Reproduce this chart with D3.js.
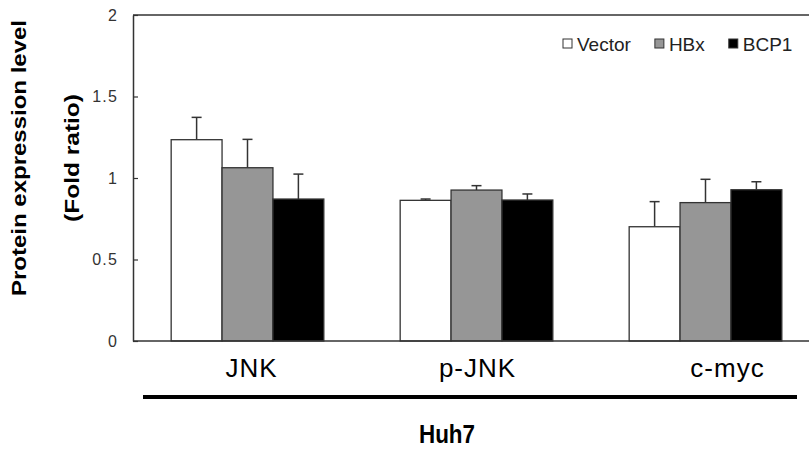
<!DOCTYPE html>
<html>
<head>
<meta charset="utf-8">
<script src="https://cdn.jsdelivr.net/npm/d3@7"></script>
<style>
  body { margin: 0; background: #fff; }
  svg { display: block; font-family: "Liberation Sans", Arial, sans-serif; }
</style>
</head>
<body>
<div id="chart"></div>
<script>
// data
const categories = ["JNK", "p-JNK", "c-myc"];
const series = ["Vector", "HBx", "BCP1"];
const vectorMean = [1.235, 0.863, 0.701];
const vectorErr = [0.137, 0.008, 0.154];
const hbxMean = [1.063, 0.926, 0.849];
const hbxErr = [0.174, 0.027, 0.143];
const bcp1Mean = [0.871, 0.865, 0.928];
const bcp1Err = [0.153, 0.037, 0.049];
const yTicks = [0, 0.5, 1, 1.5, 2];
const groupLabel = "Huh7";

const means = { "Vector": vectorMean, "HBx": hbxMean, "BCP1": bcp1Mean };
const errs = { "Vector": vectorErr, "HBx": hbxErr, "BCP1": bcp1Err };
const fills = { "Vector": "#ffffff", "HBx": "#969696", "BCP1": "#000000" };

const width = 809, height = 450;
const plot = { left: 133, right: 820, top: 15, bottom: 341 };

const svg = d3.select("#chart").append("svg")
  .attr("width", width)
  .attr("height", height);

const x0 = d3.scaleBand()
  .domain(categories)
  .range([plot.left, plot.right])
  .padding(0);

const x1 = d3.scaleBand()
  .domain(series)
  .range([0, x0.bandwidth()])
  .paddingInner(0)
  .paddingOuter(0.75);

const y = d3.scaleLinear()
  .domain([0, 2])
  .range([plot.bottom, plot.top]);

// rows: one per bar
const rows = [];
categories.forEach((c, i) => {
  series.forEach(s => {
    rows.push({ cat: c, s: s, v: means[s][i], e: errs[s][i] });
  });
});

// frame top line (right side is off-canvas)
svg.append("line")
  .attr("x1", plot.left).attr("x2", plot.right)
  .attr("y1", plot.top).attr("y2", plot.top)
  .attr("stroke", "#333").attr("stroke-width", 1.5);

// error bars, upper half only
const eb = svg.append("g").selectAll("g")
  .data(rows)
  .enter().append("g")
  .attr("transform", d => `translate(${x0(d.cat) + x1(d.s) + x1.bandwidth() / 2},0)`);

eb.append("line")
  .attr("x1", 0).attr("x2", 0)
  .attr("y1", d => y(d.v))
  .attr("y2", d => y(d.v + d.e))
  .attr("stroke", "#333").attr("stroke-width", 1.5);

eb.append("line")
  .attr("x1", -5).attr("x2", 5)
  .attr("y1", d => y(d.v + d.e))
  .attr("y2", d => y(d.v + d.e))
  .attr("stroke", "#333").attr("stroke-width", 1.5);

svg.append("g").selectAll("rect")
  .data(rows)
  .enter().append("rect")
  .attr("x", d => x0(d.cat) + x1(d.s))
  .attr("y", d => y(d.v))
  .attr("width", x1.bandwidth())
  .attr("height", d => y(0) - y(d.v))
  .attr("fill", d => fills[d.s])
  .attr("stroke", "#333")
  .attr("stroke-width", 1.3);

// bottom line
svg.append("line")
  .attr("x1", plot.left).attr("x2", plot.right)
  .attr("y1", plot.bottom).attr("y2", plot.bottom)
  .attr("stroke", "#333").attr("stroke-width", 1.5);

// y axis with inward ticks
const yAxis = svg.append("g")
  .attr("transform", `translate(${plot.left},0)`)
  .call(d3.axisLeft(y)
    .tickValues(yTicks)
    .tickFormat(d3.format("~g"))
    .tickSizeInner(-5)
    .tickSizeOuter(0)
    .tickPadding(15));

yAxis.select(".domain").attr("stroke", "#333").attr("stroke-width", 1.5);
yAxis.selectAll(".tick line").attr("stroke", "#333").attr("stroke-width", 1.2);
yAxis.selectAll(".tick text")
  .attr("font-size", 16)
  .attr("letter-spacing", 1.2)
  .attr("fill", "#333")
  .attr("font-family", "Liberation Sans, Arial, sans-serif");

// y title
const yTitle = svg.append("g")
  .attr("transform", "translate(0,158) rotate(-90)")
  .attr("font-weight", "bold")
  .attr("font-size", 20)
  .attr("text-anchor", "middle")
  .attr("fill", "#000");

yTitle.append("text")
  .attr("x", 0).attr("y", 26)
  .attr("textLength", 276)
  .attr("lengthAdjust", "spacingAndGlyphs")
  .text("Protein expression level");

yTitle.append("text")
  .attr("x", 0).attr("y", 79)
  .attr("textLength", 128)
  .attr("lengthAdjust", "spacingAndGlyphs")
  .text("(Fold ratio)");

// category labels
const labelNudge = { "JNK": 4, "p-JNK": 1, "c-myc": 22 };
svg.append("g").selectAll("text")
  .data(categories)
  .enter().append("text")
  .attr("x", d => x0(d) + x0.bandwidth() / 2 + labelNudge[d])
  .attr("y", 377)
  .attr("text-anchor", "middle")
  .attr("font-size", 26)
  .attr("letter-spacing", 1)
  .attr("fill", "#000")
  .text(d => d);

// group bracket line + label
svg.append("line")
  .attr("x1", 143).attr("x2", 797)
  .attr("y1", 397).attr("y2", 397)
  .attr("stroke", "#000").attr("stroke-width", 4);

svg.append("text")
  .attr("x", 447)
  .attr("y", 443)
  .attr("text-anchor", "middle")
  .attr("font-size", 25)
  .attr("font-weight", "bold")
  .attr("textLength", 56)
  .attr("lengthAdjust", "spacingAndGlyphs")
  .text(groupLabel);

// legend
const legend = svg.append("g")
  .attr("font-size", 19)
  .attr("fill", "#222");

let lx = 563;
series.forEach(s => {
  const item = legend.append("g").attr("transform", `translate(${lx},0)`);
  item.append("rect")
    .attr("x", 0).attr("y", 39)
    .attr("width", 9).attr("height", 9)
    .attr("fill", fills[s])
    .attr("stroke", "#333").attr("stroke-width", 1);
  const t = item.append("text")
    .attr("x", 14).attr("y", 51)
    .text(s);
  lx += 14 + t.node().getComputedTextLength() + 24;
});
</script>
</body>
</html>
